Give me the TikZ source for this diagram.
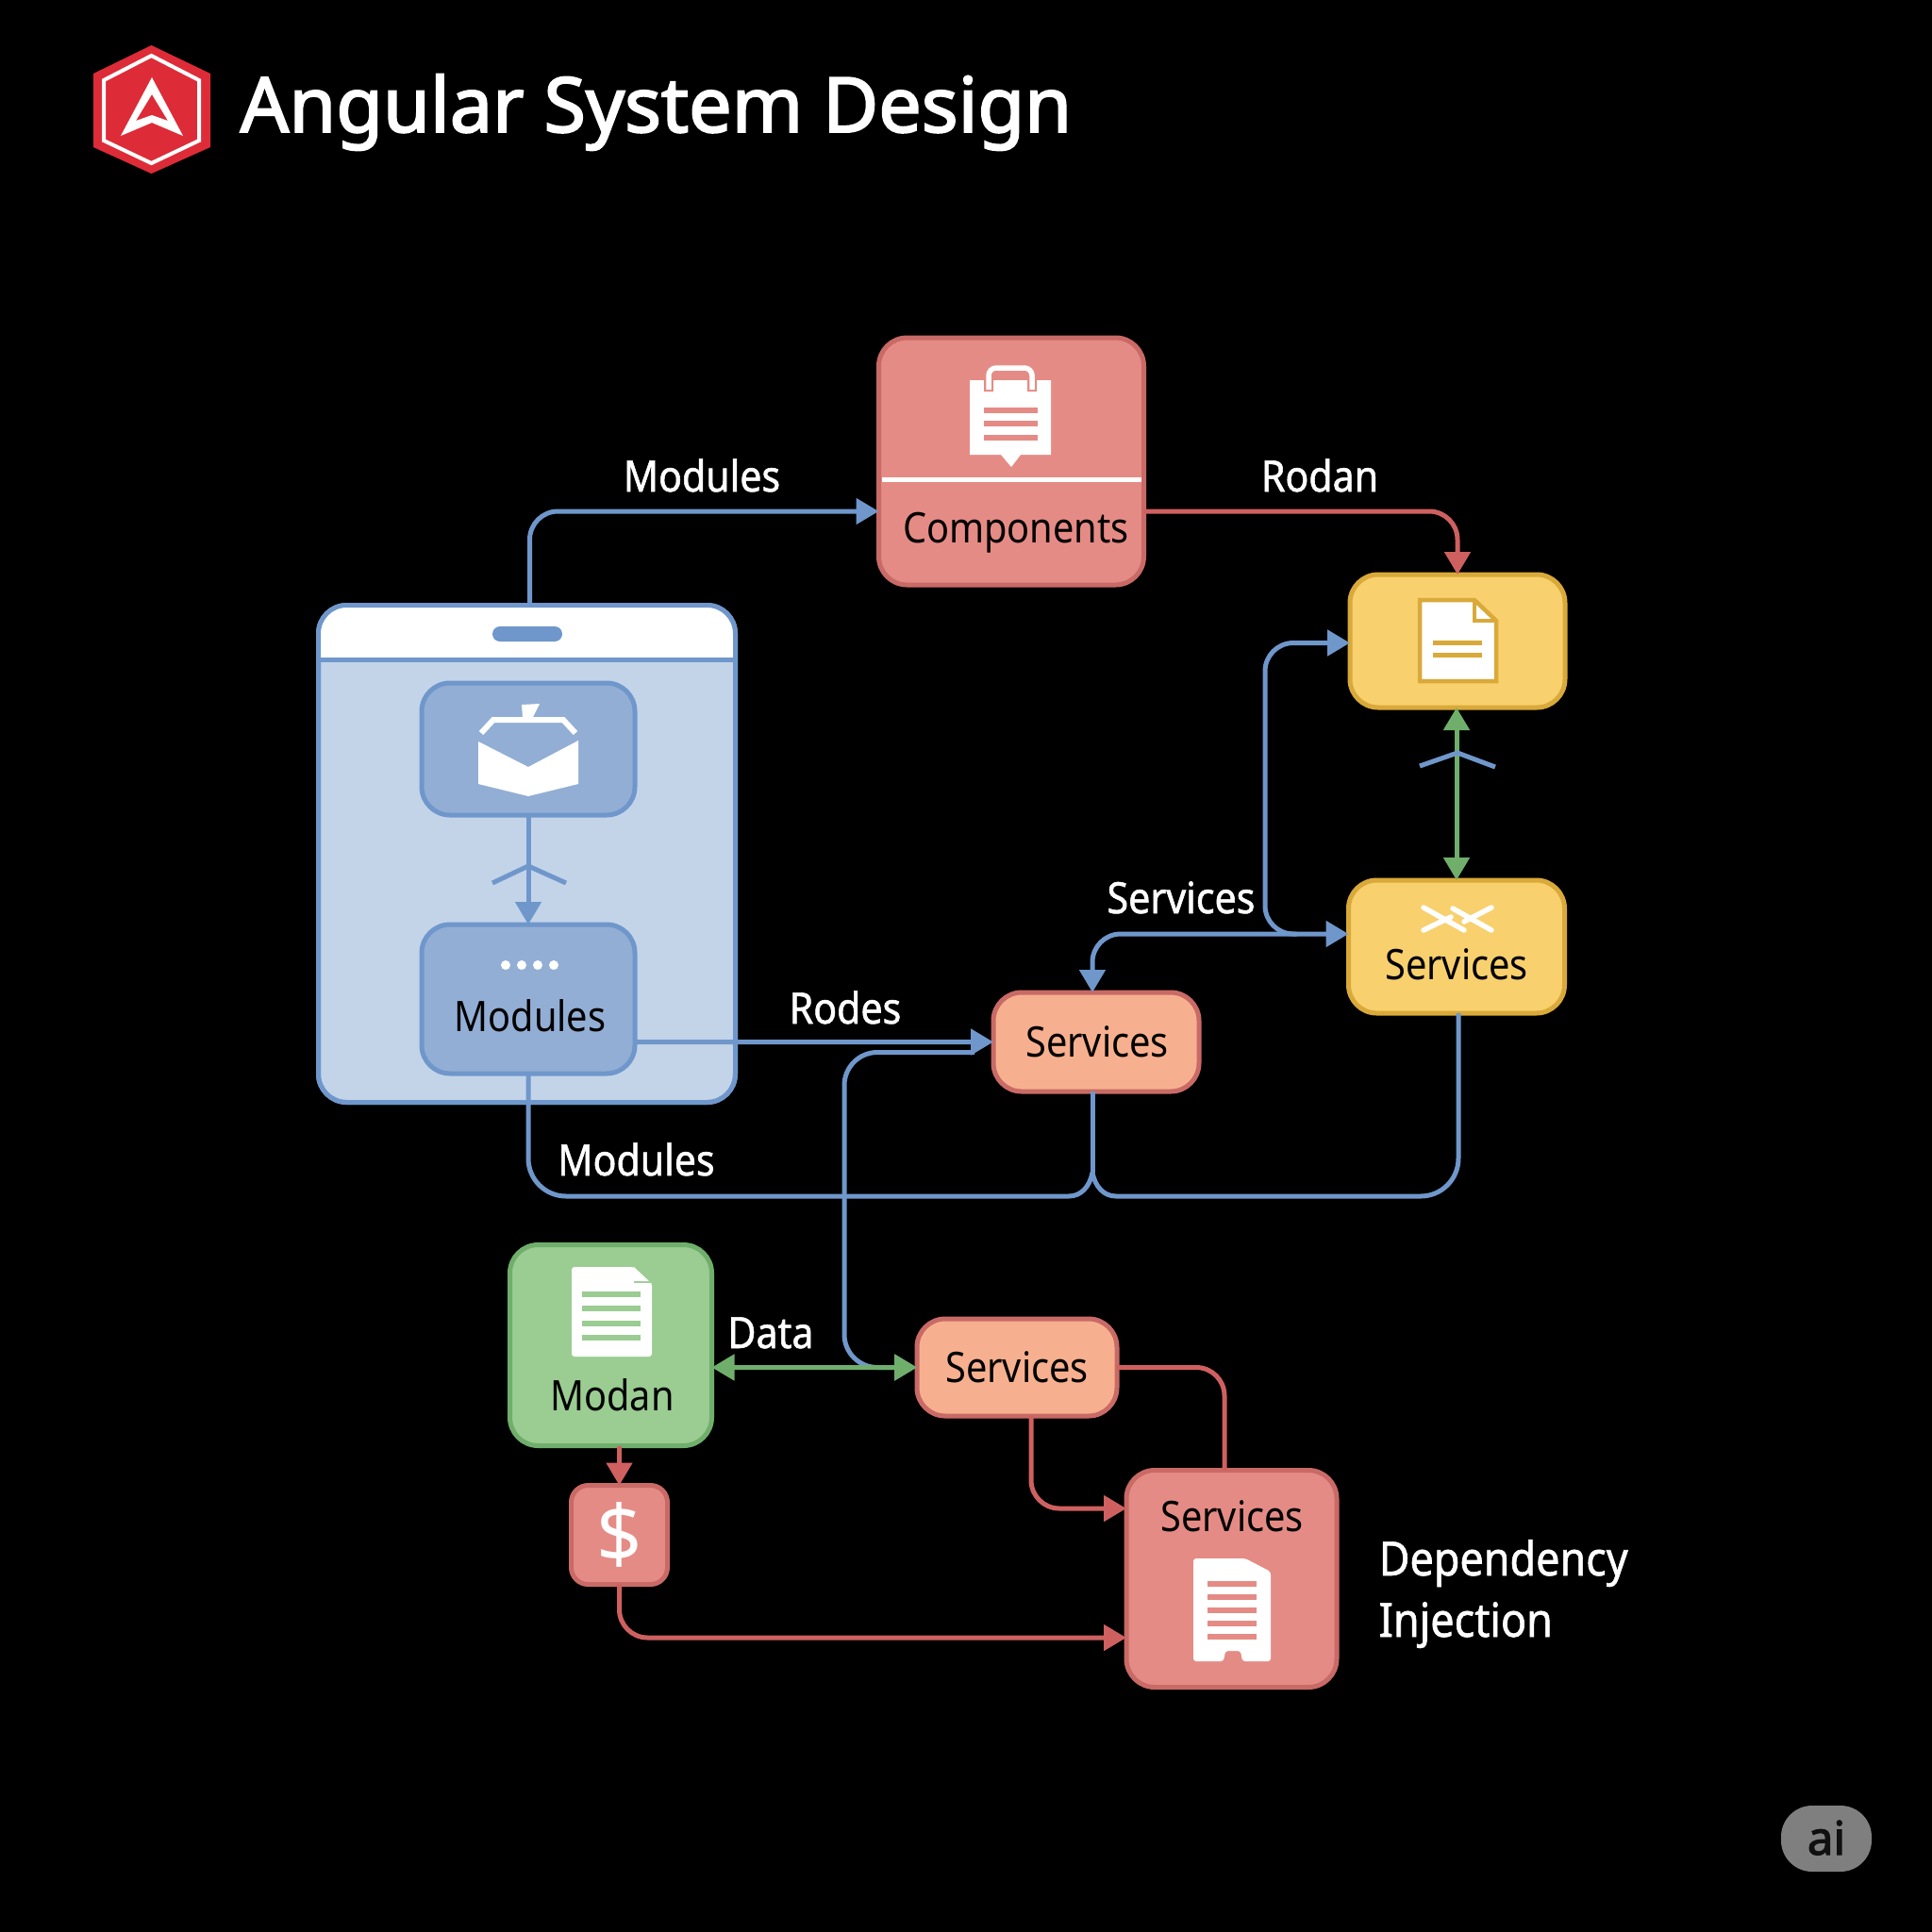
\documentclass[tikz,border=0pt]{standalone}
\usepackage{fontspec}
\setmainfont[FakeStretch=.89]{Noto Sans}
\newfontfamily\labelfont[FakeStretch=.9,FakeBold=1.2]{Noto Sans}
\newfontfamily\titlefont[FakeStretch=1.0,FakeBold=2.4]{Noto Sans}
\newfontfamily\cashfont{Noto Sans}
\usetikzlibrary{arrows.meta}
\definecolor{linkblue}{HTML}{6F97CB}
\definecolor{linkred}{HTML}{CF6060}
\definecolor{linkgreen}{HTML}{6FAF6B}
\definecolor{redline}{HTML}{C96A66}
\definecolor{redfill}{HTML}{E58B85}
\definecolor{appfill}{HTML}{C3D4E9}
\definecolor{bluefill}{HTML}{93AED4}
\definecolor{yellowfill}{HTML}{F8D06E}
\definecolor{yellowline}{HTML}{D9A93A}
\definecolor{orangefill}{HTML}{F7B08F}
\definecolor{greenfill}{HTML}{9BCC92}
\definecolor{logored}{HTML}{DD2C38}
\definecolor{badgegrey}{HTML}{7F7F7F}
\definecolor{badgetext}{HTML}{101010}
\tikzset{
  box/.style={draw,rounded corners=.3cm,line width=.05cm,inner sep=0pt,outer sep=0pt},
  redbox/.style={box,draw=redline,fill=redfill},
  bluebox/.style={box,draw=linkblue,fill=bluefill},
  yellowbox/.style={box,draw=yellowline,fill=yellowfill},
  orangebox/.style={box,draw=redline,fill=orangefill},
  greenbox/.style={box,draw=linkgreen,fill=greenfill},
  boxtext/.style={anchor=base,inner sep=0pt,text=black,font=\fontsize{12.7}{15}\selectfont},
  linktext/.style={anchor=base,inner sep=0pt,text=white,font=\labelfont\fontsize{13}{15}\selectfont},
  depntext/.style={anchor=base west,inner sep=0pt,text=white,font=\labelfont\fontsize{14.2}{17}\selectfont},
  link/.style={line width=.05cm},
  bluelink/.style={link,draw=linkblue,rounded corners=.3cm},
  redlink/.style={link,draw=linkred,rounded corners=.3cm},
  greenlink/.style={link,draw=linkgreen},
  tipblue/.style={-{Triangle[length=.24cm,width=.27cm,fill=linkblue]}},
  tipred/.style={-{Triangle[length=.24cm,width=.27cm,fill=linkred]}},
  tipgreen/.style={{Triangle[length=.24cm,width=.27cm,fill=linkgreen]}-{Triangle[length=.24cm,width=.27cm,fill=linkgreen]}},
}
\begin{document}
\begin{tikzpicture}[y=-1cm]
  \useasboundingbox[fill=black] (0,0) rectangle (20.48,20.48);

  % logo and title
  \fill[logored]       (1.605,.48) -- (2.23,.78) -- (2.23,1.56) -- (1.605,1.84)
                       -- (.99,1.56) -- (.99,.78) -- cycle;
  \draw[white,line width=.04cm] (1.605,.59) -- (2.11,.85) -- (2.11,1.49) -- (1.605,1.73)
                       -- (1.10,1.49) -- (1.10,.85) -- cycle;
  \fill[white,even odd rule] (1.61,.82) -- (1.94,1.44) -- (1.61,1.30) -- (1.28,1.44) -- cycle
                       (1.61,1.00) -- (1.44,1.28) -- (1.61,1.22) -- (1.78,1.28) -- cycle;
  \node[anchor=base west,inner sep=0pt,text=white,font=\titlefont\fontsize{23}{28}\selectfont] (title)
       at (2.54,1.40) {Angular System Design};

  % boxes
  \node[redbox,minimum width=2.81cm,minimum height=2.62cm]    (comp) at (10.72,4.89) {};
  \node[box,draw=linkblue,fill=appfill,minimum width=4.42cm,minimum height=5.27cm] (app) at (5.585,9.05) {};
  \coordinate (hdr) at (5.59,6.99);
  \fill[white]         (app.west |- hdr) [rounded corners=.3cm] -- (app.north west)
                       -- (app.north east) [sharp corners] -- (app.east |- hdr) -- cycle;
  \draw[link,draw=linkblue,rounded corners=.3cm] (app.south west) rectangle (app.north east);
  \draw[link,draw=linkblue] (app.west |- hdr) -- (app.east |- hdr);
  \node[fill=linkblue,rounded corners=.08cm,minimum width=.74cm,minimum height=.16cm,inner sep=0pt] (pill) at (5.59,6.72) {};
  \node[bluebox,minimum width=2.26cm,minimum height=1.40cm]   (pack) at (5.60,7.94) {};
  \node[bluebox,minimum width=2.26cm,minimum height=1.58cm]   (modb) at (5.60,10.59) {};
  \node[yellowbox,minimum width=2.28cm,minimum height=1.41cm] (docb) at (15.45,6.795) {};
  \node[yellowbox,minimum width=2.29cm,minimum height=1.41cm] (srvy) at (15.44,10.035) {};
  \node[orangebox,minimum width=2.18cm,minimum height=1.05cm] (srvc) at (11.62,11.045) {};
  \node[greenbox,minimum width=2.14cm,minimum height=2.13cm]  (modn) at (6.475,14.26) {};
  \node[orangebox,minimum width=2.12cm,minimum height=1.03cm] (srvb) at (10.78,14.495) {};
  \node[redbox,minimum width=1.02cm,minimum height=1.05cm,rounded corners=.18cm] (cash) at (6.565,16.27) {};
  \node[redbox,minimum width=2.23cm,minimum height=2.30cm]    (srvr) at (13.055,16.735) {};

  % connectors
  \draw[bluelink,tipblue]  ([xshift=.03cm]app.north) |- ([yshift=-.53cm]comp.west);
  \draw[redlink,tipred]    ([yshift=-.53cm]comp.east) -| (docb.north);
  \draw[bluelink,tipblue]  (pack.south) -- (modb.north);
  \coordinate (forka) at (5.60,9.18);
  \draw[bluelink,sharp corners] (forka) ++(-.38,.18) -- (forka) -- ++(.40,.18);
  \draw[bluelink,tipblue]  ([yshift=-.455cm]modb.east) -- (srvc.west);
  \coordinate (busdn) at (8.95,13);
  \draw[bluelink,tipblue,rounded corners=.35cm] ([yshift=-.11cm,xshift=-.2cm]srvc.west) -| (busdn) |- (srvb.west);
  \coordinate (mergept) at (11.58,12.43);
  \coordinate (mergel) at (11.33,12.68);
  \coordinate (merger) at (11.83,12.68);
  \draw[bluelink,rounded corners=.4cm] (modb.south) |- (mergel);
  \draw[bluelink,rounded corners=.4cm] ([xshift=.02cm]srvy.south) |- (merger);
  \draw[bluelink,sharp corners] (mergel) .. controls (11.46,12.68) and (11.55,12.58) .. (mergept);
  \draw[bluelink,sharp corners] (merger) .. controls (11.70,12.68) and (11.61,12.58) .. (mergept);
  \draw[bluelink,sharp corners] ([xshift=-.04cm]srvc.south) -- (mergept);
  \draw[bluelink,{Triangle[length=.24cm,width=.27cm,fill=linkblue]}-{Triangle[length=.24cm,width=.27cm,fill=linkblue]}]
                           ([xshift=-.04cm]srvc.north) |- ([yshift=.135cm]srvy.west);
  \coordinate (busup) at (13.41,8);
  \draw[bluelink,tipblue]  ([xshift=-.55cm,yshift=.135cm]srvy.west) -| (busup) |- ([yshift=-.02cm]docb.west);
  \draw[greenlink,tipgreen] (srvy.north) -- (srvy.north |- docb.south);
  \coordinate (forkb) at (15.45,7.98);
  \draw[bluelink,sharp corners] (forkb) ++(-.40,.14) -- (forkb) -- ++(.40,.15);
  \draw[greenlink,tipgreen] ([yshift=-.235cm]modn.east) -- (srvb.west);
  \draw[redlink,tipred]    (cash.north |- modn.south) -- (cash.north);
  \draw[redlink,tipred]    (cash.south) |- ([yshift=-.625cm]srvr.west);
  \draw[redlink]           (srvb.east) -| ([xshift=-.075cm]srvr.north);
  \draw[redlink,tipred]    ([xshift=.15cm]srvb.south) |- ([yshift=.745cm]srvr.west);

  % texts
  \node[boxtext] (tcomp) at (10.77,5.75)  {Components};
  \node[boxtext] (tmodb) at (5.62,10.93)  {Modules};
  \node[boxtext] (tsrvy) at (15.44,10.38) {Services};
  \node[boxtext] (tsrvc) at (11.63,11.20) {Services};
  \node[boxtext] (tsrvb) at (10.78,14.65) {Services};
  \node[boxtext] (tsrvr) at (13.06,16.23) {Services};
  \node[boxtext] (tmodn) at (6.49,14.95)  {Modan};
  \node[text=white,font=\cashfont\fontsize{24}{28}\selectfont,inner sep=0pt] (tcash) at (6.57,16.27) {\$};
  \node[linktext] (lmoda) at (7.44,5.21)   {Modules};
  \node[linktext] (lroda) at (13.99,5.21)  {Rodan};
  \node[linktext] (lrode) at (8.96,10.85)  {Rodes};
  \node[linktext] (lsrvc) at (12.52,9.68)  {Services};
  \node[linktext] (lmodb) at (6.745,12.46) {Modules};
  \node[linktext] (ldata) at (8.17,14.29)  {Data};
  \node[depntext] (ldepa) at (14.61,16.70) {Dependency};
  \node[depntext] (ldepb) at (14.61,17.35) {Injection};

  % icons
  \fill[white]         (10.28,4.03) -- (11.14,4.03) -- (11.14,4.82) -- (10.82,4.82) -- (10.72,4.95)
                       -- (10.61,4.82) -- (10.28,4.82) -- cycle;
  \draw[redfill,line width=.1cm,rounded corners=.08cm] (10.48,4.15) -- (10.48,3.90) -- (10.94,3.90) -- (10.94,4.15);
  \draw[white,line width=.055cm,rounded corners=.08cm] (10.48,4.13) -- (10.48,3.90) -- (10.94,3.90) -- (10.94,4.13);
  \foreach \y in {4.35,4.49,4.64}
    \draw[redfill,line width=.065cm] (10.43,\y) -- (11.00,\y);
  \draw[white,line width=.05cm] ([xshift=.03cm,yshift=-.19cm]comp.west) -- ([xshift=-.03cm,yshift=-.19cm]comp.east);

  \fill[white]         (5.07,7.86) -- (5.60,8.13) -- (6.13,7.85) -- (6.13,8.31) -- (5.60,8.44)
                       -- (5.07,8.31) -- cycle;
  \draw[white,line width=.06cm] (5.10,7.77) -- (5.23,7.63) -- (5.97,7.63) -- (6.10,7.77);
  \fill[white]         (5.53,7.47) -- (5.72,7.46) -- (5.65,7.60) -- (5.54,7.60) -- cycle;
  \foreach \x in {5.36,5.53,5.70,5.87}
    \fill[white] (\x,10.23) circle (.05);

  \filldraw[fill=white,draw=yellowline,line width=.045cm] (15.05,6.36) -- (15.63,6.36) -- (15.86,6.58)
                       -- (15.86,7.22) -- (15.05,7.22) -- cycle;
  \draw[yellowline,line width=.035cm] (15.63,6.36) -- (15.63,6.58) -- (15.86,6.58);
  \foreach \y in {6.81,6.94}
    \draw[yellowline,line width=.05cm] (15.19,\y) -- (15.71,\y);

  \draw[white,line width=.055cm,line cap=round] (15.09,9.62) -- (15.52,9.86) (15.09,9.86) -- (15.38,9.72)
                       (15.40,9.63) -- (15.81,9.86) (15.81,9.62) -- (15.52,9.77);

  \fill[white,rounded corners=.03cm] (6.06,13.43) -- (6.72,13.43) -- (6.91,13.60) -- (6.91,14.38) -- (6.06,14.38) -- cycle;
  \fill[greenfill]     (6.72,13.40) -- (6.72,13.60) -- (6.93,13.60) -- (6.93,13.40) -- cycle;
  \fill[white]         (6.72,13.43) -- (6.88,13.58) -- (6.72,13.58) -- cycle;
  \foreach \y in {13.72,13.87,14.03,14.18}
    \draw[greenfill,line width=.06cm] (6.17,\y) -- (6.79,\y);

  \fill[white,rounded corners=.03cm] (12.65,16.52) -- (13.20,16.52) -- (13.47,16.66) -- (13.47,17.61)
                       -- (13.17,17.61) -- (13.15,17.50) -- (12.99,17.50) -- (12.97,17.61)
                       -- (12.65,17.61) -- cycle;
  \foreach \y in {16.79,16.93,17.07,17.21,17.35}
    \draw[redfill,line width=.06cm] (12.80,\y) -- (13.32,\y);

  % corner badge
  \node[fill=badgegrey,rounded corners=.33cm,minimum width=.96cm,minimum height=.70cm,inner sep=0pt] (badge) at (19.36,19.49) {};
  \node[anchor=base,inner sep=0pt,text=badgetext,font=\titlefont\fontsize{14}{16}\selectfont] (tbadge) at (19.36,19.66) {ai};
\end{tikzpicture}
\end{document}
